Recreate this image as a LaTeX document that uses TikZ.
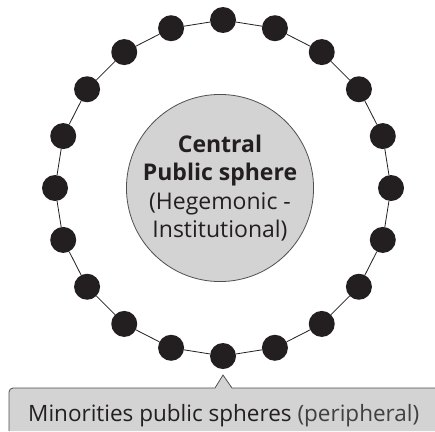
\documentclass[tikz,border=0pt]{standalone}
\usepackage{fontspec}
\setmainfont{Open Sans}
\definecolor{ink}{HTML}{231F20}
\definecolor{cgray}{HTML}{D3D3D3}
\definecolor{edgegray}{HTML}{505050}
\tikzset{
  dot/.style={circle,fill=ink,minimum size=26pt,inner sep=0pt},
  link/.style={ink,line width=0.8pt},
  hub/.style={circle,fill=cgray,draw=edgegray,line width=0.8pt,minimum size=180pt,inner sep=0pt,align=center,text=ink,font=\fontsize{23}{28.5}\selectfont},
  boxline/.style={draw=edgegray,line width=0.8pt},
  labeltext/.style={text=ink,font=\fontsize{22.5}{28}\selectfont,inner sep=0pt}
}
\begin{document}
\begin{tikzpicture}[x=1pt,y=-1pt]
\useasboundingbox (0,0) rectangle (435,431);
% outer ring of dots
\foreach \i in {0,...,19} {
  \node[dot] (d\i) at ({223+168*cos(90+18*\i)},{188-168*sin(90+18*\i)}) {};
}
\foreach \i [evaluate=\i as \j using {int(mod(\i+1,20))}] in {0,...,19} {
  \draw[link] (d\i) -- (d\j);
}
% central sphere
\node[hub] (central) at (220,188) {{\bfseries Central}\\{\bfseries Public sphere}\\(Hegemonic -\\Institutional)};
% callout box
\coordinate (tip) at (223,375);
\fill[cgray] (9,431) -- (9,392) arc[start angle=180,end angle=270,radius=4] -- (215,388) -- (tip) -- (232,388) -- (435,388) -- (435,431) -- cycle;
\draw[boxline] (9,431) -- (9,392) arc[start angle=180,end angle=270,radius=4] -- (215,388) -- (tip) -- (232,388) -- (435,388);
\node[labeltext,anchor=base west] (minor) at (28,421) {Minorities public spheres {\color{black!75}(peripheral)}};
\end{tikzpicture}
\end{document}
